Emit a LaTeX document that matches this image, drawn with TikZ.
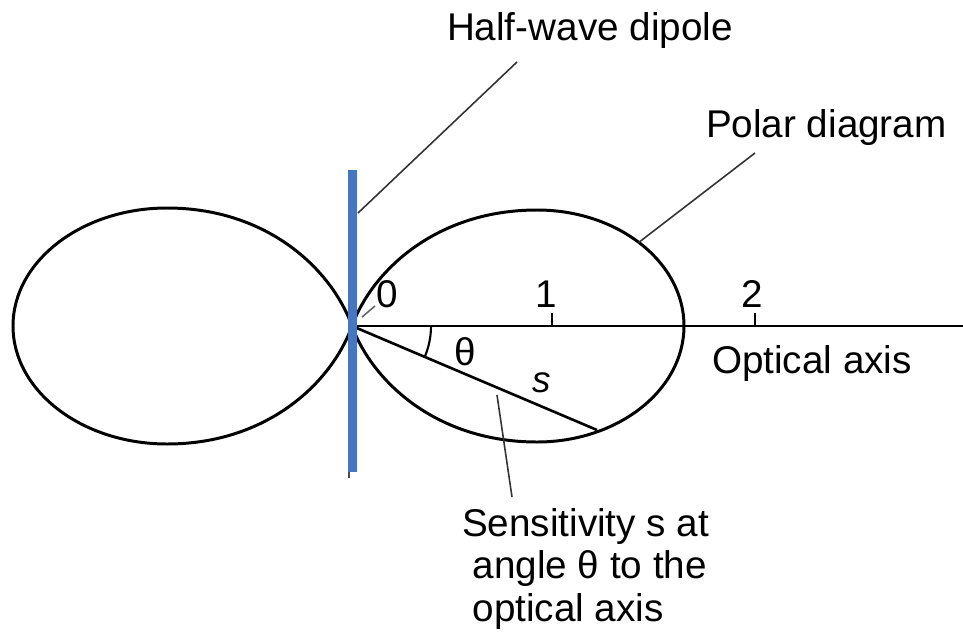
\documentclass[tikz,border=0pt]{standalone}
\usepackage{fontspec}
\setmainfont{Liberation Sans}
\definecolor{dipoleblue}{RGB}{70,118,192}
\tikzset{
  lobe/.style={line width=1.7pt, black},
  axisline/.style={line width=1.7pt, black},
  leader/.style={line width=0.9pt, black!80},
  lbl/.style={font=\fontsize{22}{24}\selectfont, inner sep=0pt, outer sep=0pt},
}
\begin{document}
\begin{tikzpicture}[x=0.02cm,y=0.02cm]
\useasboundingbox (0,0) rectangle (963,-632);
% origin
\coordinate (O) at (352,-326);
% left lobe
\draw[lobe] (O) .. controls (331.5,-269) and (267,-208) .. (167,-208)
  .. controls (82,-208) and (13,-261) .. (13,-326)
  .. controls (13,-391) and (82,-444) .. (167,-444)
  .. controls (267,-444) and (331.5,-383) .. (O);
% right lobe
\draw[lobe] (O) .. controls (372.5,-270) and (437,-210) .. (537,-210)
  .. controls (618,-210) and (684,-262) .. (684,-326)
  .. controls (684,-390) and (618,-442) .. (537,-442)
  .. controls (437,-442) and (372.5,-382) .. (O);
% optical axis
\coordinate (axend) at (963,-326);
\draw[axisline] (O) -- (axend);
% ticks
\coordinate (t1) at (552,-326);
\coordinate (t2) at (755,-326);
\draw[line width=1.2pt] (t1) -- ++(0,13);
\draw[line width=1.2pt] (t2) -- ++(0,13);
\node[lbl, anchor=base] (one) at (546,-307) {1};
\node[lbl, anchor=base] (two) at (752,-307) {2};
\node[lbl, anchor=base] (zero) at (387,-307) {0};
% s line
\coordinate (sEnd) at (597,-430);
\draw[line width=1.5pt] (O) -- (sEnd);
% theta arc
\coordinate (arcStart) at (431,-326);
\draw[line width=1.2pt] (arcStart) arc[start angle=0, end angle=-23, radius=1.58cm];
\node[lbl] (theta) at (465,-352) {θ};
\node[lbl, font=\fontsize{21}{24}\selectfont\itshape] (s) at (542,-383) {s};
% leader to zero
\coordinate (z1) at (362,-317);
\coordinate (z2) at (375,-306);
\draw[leader, black!60] (z1) -- (z2);
% dipole (thin black trace and blue bar)
\draw[line width=1pt, black!70] (349,-174) -- (349,-478);
\fill[dipoleblue] (348,-170) rectangle (357,-472);
% labels
\node[lbl, anchor=base west] (hw) at (447,-40) {Half-wave dipole};
\coordinate (hwA) at (517,-62);
\coordinate (hwB) at (358,-213);
\draw[leader] (hwA) -- (hwB);
\node[lbl, anchor=base west] (polar) at (706,-137) {Polar diagram};
\coordinate (pA) at (755,-153);
\coordinate (pB) at (638,-243);
\draw[leader] (pA) -- (pB);
\node[lbl, anchor=base west] (optical) at (712,-373) {Optical axis};
\node[lbl, anchor=base west, align=left] (sens) at (462,-621)
  {Sensitivity s at\\\hspace*{6pt}angle θ to the\\\hspace*{6pt}optical axis};
\coordinate (sA) at (497,-395);
\coordinate (sB) at (512,-497);
\draw[leader] (sA) -- (sB);
\end{tikzpicture}
\end{document}
